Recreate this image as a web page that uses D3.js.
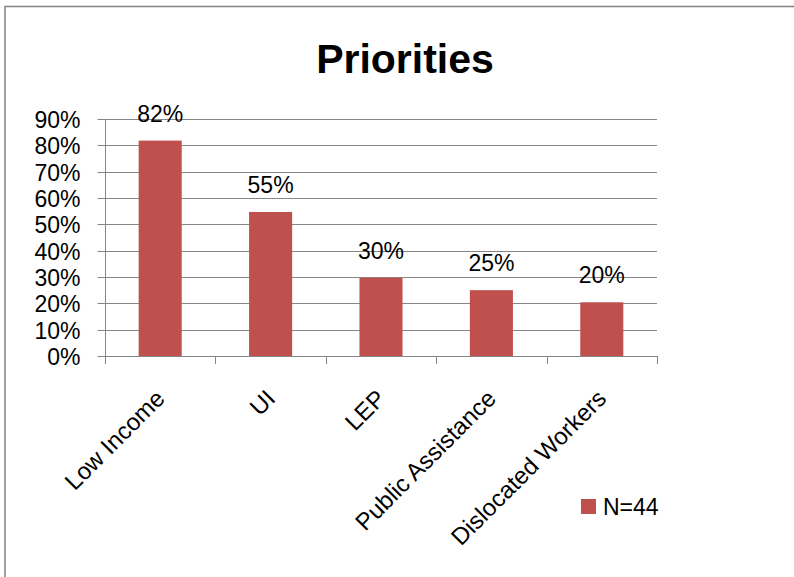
<!DOCTYPE html>
<html>
<head>
<meta charset="utf-8">
<script src="https://cdn.jsdelivr.net/npm/d3@7"></script>
<style>
  html, body { margin: 0; padding: 0; background: #fff; }
  svg { display: block; font-family: "Liberation Sans", Arial, sans-serif; }
</style>
</head>
<body>
<svg id="chart" width="794" height="577"></svg>
<script>
const title = "Priorities";
const categories = ["Low Income", "UI", "LEP", "Public Assistance", "Dislocated Workers"];
const values = [0.818, 0.547, 0.297, 0.25, 0.204];
const yTicks = [0, 0.1, 0.2, 0.3, 0.4, 0.5, 0.6, 0.7, 0.8, 0.9];
const seriesName = "N=44";

(function () {
const svg = d3.select("#chart");
const gridColor = "#868686";
const barColor = "#C0504D";
const fmt = d3.format(".0%");

// outer border (cropped on right and bottom)
svg.append("rect")
  .attr("x", 5).attr("y", 6.5)
  .attr("width", 820).attr("height", 600)
  .attr("fill", "none").attr("stroke", "#888").attr("stroke-width", 1.6);

const pLeft = 105, pRight = 657, pTop = 119, pBottom = 356;

const x = d3.scaleBand().domain(categories).range([pLeft, pRight])
  .paddingInner(0.61).paddingOuter(0.305);
const y = d3.scaleLinear().domain([0, 0.9]).range([pBottom, pTop]);

// title
svg.append("text")
  .attr("x", 405).attr("y", 73)
  .attr("text-anchor", "middle")
  .attr("font-size", 41).attr("font-weight", "bold")
  .text(title);

// gridlines
svg.append("g").selectAll("line").data(yTicks).join("line")
  .attr("x1", pLeft).attr("x2", pRight)
  .attr("y1", d => Math.round(y(d)) + 0.5).attr("y2", d => Math.round(y(d)) + 0.5)
  .attr("stroke", gridColor).attr("stroke-width", 1);

// y axis
const yAxis = svg.append("g")
  .attr("transform", `translate(${pLeft + 0.5},0)`)
  .call(d3.axisLeft(y).tickValues(yTicks).tickFormat(fmt).tickSize(8).tickPadding(17));
yAxis.select(".domain").attr("stroke", gridColor).attr("d", `M0,${pTop}V${pBottom + 7}`);
yAxis.selectAll(".tick line").attr("stroke", gridColor);
yAxis.selectAll(".tick").attr("transform", d => `translate(0,${Math.round(y(d)) + 0.5})`);
yAxis.selectAll(".tick text")
  .attr("font-size", 23).attr("font-family", "Liberation Sans, Arial, sans-serif")
  .attr("fill", "#000").attr("dy", "0.36em");

// bars
svg.append("g").selectAll("rect").data(categories).join("rect")
  .attr("x", d => x(d))
  .attr("width", x.bandwidth())
  .attr("y", (d, i) => y(values[i]))
  .attr("height", (d, i) => pBottom - y(values[i]))
  .attr("fill", barColor);

// x axis category boundary ticks
const step = x.step();
const bounds = d3.range(categories.length + 1).map(i => pLeft + i * step);
svg.append("g").selectAll("line").data(bounds).join("line")
  .attr("x1", d => Math.round(d) + 0.5).attr("x2", d => Math.round(d) + 0.5)
  .attr("y1", pBottom).attr("y2", pBottom + 8)
  .attr("stroke", gridColor);

// data labels
svg.append("g").selectAll("text").data(categories).join("text")
  .attr("x", d => x(d) + x.bandwidth() / 2)
  .attr("y", (d, i) => y(values[i]) - 19)
  .attr("text-anchor", "middle")
  .attr("font-size", 23)
  .text((d, i) => fmt(values[i]));

// category labels rotated
svg.append("g").selectAll("text").data(categories).join("text")
  .attr("transform", d => `translate(${x(d) + x.bandwidth() / 2 + 6},400) rotate(-45)`)
  .attr("text-anchor", "end")
  .attr("font-size", 24)
  .text(d => d);

// legend
const lg = svg.append("g");
lg.append("rect").attr("x", 581).attr("y", 499).attr("width", 15).attr("height", 15).attr("fill", barColor);
lg.append("text").attr("x", 603).attr("y", 515).attr("font-size", 23).text(seriesName);
})();
</script>
</body>
</html>
